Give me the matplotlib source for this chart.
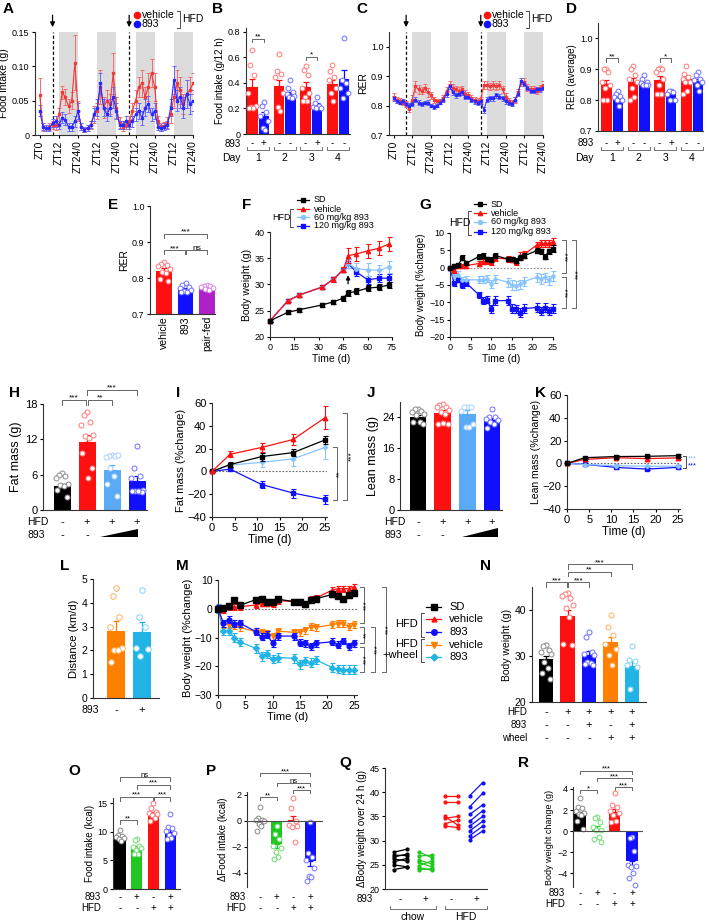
import matplotlib
matplotlib.use('Agg')
import matplotlib.pyplot as plt
from matplotlib.lines import Line2D
from matplotlib.patches import Polygon
import matplotlib.transforms as mtrans

plt.rcParams['font.family'] = ['Liberation Sans', 'DejaVu Sans']
plt.rcParams['font.size'] = 7
plt.rcParams['axes.linewidth'] = 0.8
plt.rcParams['axes.edgecolor'] = '#333333'
plt.rcParams['xtick.major.width'] = 0.8
plt.rcParams['ytick.major.width'] = 0.8
plt.rcParams['xtick.major.size'] = 2.5
plt.rcParams['ytick.major.size'] = 2.5
plt.rcParams['xtick.major.pad'] = 1.5
plt.rcParams['ytick.major.pad'] = 1.5
plt.rcParams['xtick.labelsize'] = 6.5
plt.rcParams['ytick.labelsize'] = 6.5

# ------------------------------------------------------------------ data
ZT_ticks = [0, 12, 24, 36, 48, 60, 72, 84, 96]
ZT_labels = ['ZT0', 'ZT12', 'ZT24/0', 'ZT12', 'ZT24/0', 'ZT12', 'ZT24/0', 'ZT12', 'ZT24/0']
A_time = [0, 2, 4, 6, 8, 10, 12, 14, 16, 18, 20, 22, 24, 26, 28, 30, 32, 34, 36, 38,
          40, 42, 44, 46, 48, 50, 52, 54, 56, 58, 60, 62, 64, 66, 68, 70, 72, 74, 76, 78,
          80, 82, 84, 86, 88, 90, 92, 94, 96]
A_veh = [0.058, 0.012, 0.010, 0.012, 0.015, 0.014, 0.030,
         0.062, 0.055, 0.042, 0.050, 0.105, 0.035, 0.012,
         0.008, 0.010, 0.015, 0.030, 0.035, 0.070, 0.040,
         0.050, 0.045, 0.090, 0.040, 0.018, 0.012, 0.015,
         0.020, 0.035, 0.050, 0.070, 0.075, 0.055, 0.070,
         0.090, 0.070, 0.020, 0.012, 0.013, 0.018, 0.030,
         0.055, 0.075, 0.065, 0.045, 0.060, 0.065, 0.075]
A_veh_err = [0.025, 0.006, 0.004, 0.005, 0.006, 0.006, 0.010,
             0.010, 0.012, 0.010, 0.012, 0.040, 0.015, 0.005,
             0.004, 0.004, 0.006, 0.012, 0.012, 0.025, 0.015,
             0.015, 0.015, 0.030, 0.015, 0.008, 0.006, 0.006,
             0.008, 0.012, 0.015, 0.015, 0.020, 0.015, 0.020,
             0.020, 0.020, 0.008, 0.006, 0.006, 0.008, 0.012,
             0.015, 0.020, 0.020, 0.015, 0.020, 0.020, 0.015]
A_893 = [0.035, 0.012, 0.010, 0.010, 0.018, 0.020, 0.015,
         0.025, 0.022, 0.012, 0.012, 0.020, 0.035, 0.012,
         0.008, 0.010, 0.015, 0.030, 0.040, 0.075, 0.040,
         0.030, 0.040, 0.055, 0.035, 0.015, 0.015, 0.020,
         0.015, 0.020, 0.030, 0.035, 0.025, 0.040, 0.045,
         0.030, 0.035, 0.012, 0.010, 0.012, 0.015, 0.040,
         0.080, 0.050, 0.055, 0.040, 0.060, 0.045, 0.050]
A_893_err = [0.008, 0.005, 0.004, 0.004, 0.006, 0.008, 0.006,
             0.008, 0.008, 0.006, 0.006, 0.008, 0.012, 0.005,
             0.004, 0.004, 0.005, 0.010, 0.012, 0.015, 0.012,
             0.010, 0.012, 0.015, 0.012, 0.006, 0.006, 0.008,
             0.006, 0.008, 0.010, 0.012, 0.010, 0.012, 0.012,
             0.010, 0.012, 0.005, 0.004, 0.005, 0.006, 0.012,
             0.020, 0.015, 0.015, 0.015, 0.020, 0.015, 0.015]

C_veh = [0.830, 0.820, 0.815, 0.810, 0.805, 0.790, 0.820,
         0.865, 0.855, 0.850, 0.860, 0.845, 0.835, 0.820,
         0.815, 0.815, 0.825, 0.850, 0.870, 0.860, 0.855,
         0.850, 0.855, 0.840, 0.835, 0.825, 0.820, 0.815,
         0.820, 0.870, 0.870, 0.865, 0.870, 0.865, 0.870,
         0.855, 0.830, 0.815, 0.810, 0.820, 0.845, 0.880,
         0.880, 0.860, 0.855, 0.855, 0.850, 0.860, 0.870]
C_veh_err = [0.012, 0.010, 0.010, 0.008, 0.010, 0.012, 0.015,
             0.018, 0.015, 0.012, 0.015, 0.015, 0.012, 0.010,
             0.008, 0.008, 0.010, 0.012, 0.012, 0.012, 0.012,
             0.012, 0.012, 0.012, 0.010, 0.010, 0.010, 0.010,
             0.010, 0.012, 0.012, 0.012, 0.012, 0.012, 0.012,
             0.012, 0.012, 0.010, 0.010, 0.010, 0.012, 0.012,
             0.012, 0.012, 0.010, 0.010, 0.010, 0.010, 0.012]
C_893 = [0.825, 0.815, 0.810, 0.815, 0.805, 0.800, 0.805,
         0.820, 0.810, 0.805, 0.810, 0.810, 0.800, 0.795,
         0.800, 0.810, 0.820, 0.840, 0.865, 0.845, 0.835,
         0.840, 0.845, 0.830, 0.830, 0.820, 0.815, 0.810,
         0.815, 0.785, 0.820, 0.825, 0.825, 0.835, 0.830,
         0.825, 0.815, 0.810, 0.805, 0.820, 0.840, 0.885,
         0.875, 0.860, 0.850, 0.850, 0.855, 0.855, 0.860]
C_893_err = [0.008, 0.006, 0.006, 0.006, 0.008, 0.010, 0.008,
             0.008, 0.008, 0.006, 0.006, 0.008, 0.006, 0.006,
             0.006, 0.006, 0.008, 0.010, 0.010, 0.008, 0.008,
             0.008, 0.008, 0.008, 0.008, 0.008, 0.008, 0.008,
             0.008, 0.010, 0.008, 0.008, 0.008, 0.008, 0.008,
             0.008, 0.008, 0.008, 0.008, 0.008, 0.008, 0.010,
             0.010, 0.008, 0.008, 0.008, 0.008, 0.008, 0.008]

days = ['1', '2', '3', '4']
B_veh = [0.370, 0.375, 0.365, 0.395]
B_veh_err = [0.060, 0.050, 0.040, 0.030]
B_893 = [0.140, 0.310, 0.230, 0.430]
B_893_err = [0.030, 0.020, 0.015, 0.070]
B_veh_pts = [[0.66, 0.54, 0.46, 0.32, 0.22, 0.21, 0.20, 0.20],
             [0.63, 0.49, 0.47, 0.45, 0.32, 0.21, 0.18],
             [0.53, 0.50, 0.46, 0.36, 0.32, 0.29, 0.26, 0.26],
             [0.54, 0.49, 0.45, 0.42, 0.36, 0.32, 0.26]]
B_893_pts = [[0.25, 0.22, 0.17, 0.14, 0.10, 0.05, 0.03],
             [0.42, 0.36, 0.33, 0.31, 0.30, 0.29, 0.28],
             [0.29, 0.24, 0.22, 0.21, 0.20, 0.20],
             [0.75, 0.42, 0.40, 0.36, 0.32, 0.28]]
B_893_marks = ['+', '-', '+', '-']

D_veh = [0.852, 0.858, 0.865, 0.868]
D_veh_err = [0.012, 0.013, 0.012, 0.009]
D_893 = [0.810, 0.852, 0.828, 0.862]
D_893_err = [0.008, 0.008, 0.006, 0.008]
D_veh_pts = [[0.90, 0.90, 0.89, 0.86, 0.85, 0.84, 0.80, 0.80],
             [0.91, 0.90, 0.88, 0.87, 0.86, 0.84, 0.81, 0.80],
             [0.905, 0.90, 0.90, 0.89, 0.87, 0.85, 0.82, 0.82],
             [0.91, 0.885, 0.875, 0.87, 0.86, 0.86, 0.83, 0.82]]
D_893_pts = [[0.83, 0.82, 0.815, 0.81, 0.80, 0.80, 0.78],
             [0.88, 0.87, 0.86, 0.855, 0.85, 0.85, 0.85],
             [0.83, 0.83, 0.825, 0.82, 0.80, 0.80],
             [0.89, 0.88, 0.87, 0.865, 0.86, 0.85, 0.83]]

E_groups = ['vehicle', '893', 'pair-fed']
E_mean = [0.820, 0.768, 0.773]
E_err = [0.008, 0.005, 0.003]
E_pts = [[0.845, 0.840, 0.836, 0.832, 0.825, 0.818, 0.813, 0.797, 0.793],
         [0.787, 0.781, 0.776, 0.772, 0.767, 0.765, 0.762, 0.760],
         [0.781, 0.779, 0.778, 0.776, 0.772, 0.770, 0.767]]

F_time = [0, 11, 18, 32, 39, 45, 48, 53, 60, 67, 73]
F_SD = [23.1, 24.7, 25.2, 26.1, 26.7, 27.4, 28.4, 28.7, 29.3, 29.5, 29.9]
F_SD_err = [0.3, 0.4, 0.4, 0.4, 0.4, 0.5, 0.5, 0.6, 0.6, 0.6, 0.6]
F_veh = [23.1, 26.9, 28.0, 29.5, 31.0, 32.8, 35.5, 35.8, 36.4, 36.9, 37.7]
F_veh_err = [0.3, 0.3, 0.4, 0.4, 0.5, 0.5, 1.5, 1.4, 1.4, 1.3, 1.3]
F_60 = [23.1, 26.9, 28.0, 29.5, 31.0, 32.8, 34.0, 33.0, 32.8, 32.7, 33.3]
F_60_err = [0.3, 0.3, 0.4, 0.4, 0.5, 0.5, 0.8, 1.0, 1.2, 1.1, 1.2]
F_120 = [23.1, 26.9, 28.0, 29.5, 31.0, 32.8, 34.0, 32.4, 30.9, 31.2, 31.2]
F_120_err = [0.3, 0.3, 0.4, 0.4, 0.5, 0.5, 0.8, 0.8, 0.8, 0.8, 0.8]

G_time = [0, 1, 2, 3, 4, 7, 8, 9, 10, 11, 14, 15, 16, 17, 18, 21, 22, 23, 24, 25]
G_SD = [0, 0.5, 0.8, 2.9, 1.3, 3.2, 3.4, 2.5, 2.3, 3.5, 2.5, 2.5, 2.0, 2.9, 3.4, 4.9, 4.7, 3.2, 4.7, 5.5]
G_SD_err = [0.3, 0.5, 0.6, 0.8, 0.6, 0.7, 0.7, 0.7, 0.7, 0.7, 0.7, 0.7, 0.7, 0.7, 0.7, 0.8, 0.8, 0.8, 0.8, 0.9]
G_veh = [0, -0.8, 0.5, 0.5, 0.6, 1.2, 1.7, 1.8, 1.5, 2.8, 2.5, 2.3, 1.5, 3.5, 3.8, 6.5, 7.0, 7.0, 7.0, 7.5]
G_veh_err = [0.3, 0.6, 0.6, 0.6, 0.6, 0.7, 0.7, 0.7, 0.7, 0.8, 0.8, 0.8, 0.8, 0.9, 0.9, 1.0, 1.0, 1.0, 1.0, 1.1]
G_60 = [0, -2.5, -2.0, -3.5, -3.5, -3.5, -3.5, -3.2, -4.8, -3.2, -4.2, -5.0, -5.2, -4.8, -4.0, -2.8, -3.2, -2.8, -3.7, -2.5]
G_60_err = [0.3, 0.8, 0.9, 0.9, 1.0, 1.0, 1.0, 1.0, 1.2, 1.2, 1.3, 1.3, 1.3, 1.3, 1.3, 1.4, 1.4, 1.4, 1.4, 1.4]
G_120 = [0, -4.5, -3.5, -5.0, -4.5, -7.8, -9.5, -9.2, -12.0, -9.5, -9.5, -11.8, -12.0, -13.0, -11.8, -11.5, -12.5, -11.5, -12.5, -11.8]
G_120_err = [0.3, 0.7, 0.7, 0.8, 0.8, 0.9, 1.0, 1.0, 1.2, 1.2, 1.2, 1.2, 1.2, 1.3, 1.3, 1.2, 1.2, 1.2, 1.2, 1.2]

H_mean = [4.1, 11.5, 6.8, 5.0]
H_err = [0.4, 1.2, 0.9, 0.8]
H_pts = [[6.2, 6.0, 5.7, 5.4, 4.5, 4.2, 4.0, 3.4, 2.2],
         [16.7, 16.1, 15.0, 14.4, 12.7, 12.5, 12.3, 9.6, 7.1, 5.4],
         [9.3, 9.2, 9.1, 9.0, 9.3, 7.1, 5.7, 4.5, 2.4],
         [10.8, 7.1, 5.7, 5.4, 3.4, 3.2, 3.2, 3.3, 3.1, 3.2]]
HFD_marks4 = ['-', '+', '+', '+']

IK_time = [0, 4, 11, 18, 25]
I_SD = [0, 6.0, 13.0, 16.5, 27.5]
I_SD_err = [0.5, 2.5, 3.5, 3.0, 3.5]
I_veh = [0, 15.0, 21.0, 28.0, 47.0]
I_veh_err = [0.5, 2.5, 4.0, 5.0, 10.0]
I_60 = [0, 5.5, 8.0, 11.0, 21.0]
I_60_err = [0.5, 2.0, 4.0, 6.0, 10.0]
I_120 = [0, 2.0, -11.5, -19.0, -24.5]
I_120_err = [0.5, 1.0, 3.0, 4.0, 4.0]

J_mean = [24.0, 25.2, 24.8, 23.4]
J_err = [0.6, 0.7, 1.0, 0.5]
J_pts = [[26.3, 26.1, 25.7, 25.5, 25.0, 24.6, 22.9, 22.7, 22.4],
         [27.4, 27.2, 26.8, 26.6, 25.9, 25.5, 25.0, 22.4, 22.2, 22.6],
         [26.8, 26.8, 26.7, 25.7, 22.4, 21.6, 21.6],
         [26.1, 24.2, 24.0, 23.5, 23.3, 22.9, 22.4, 21.3]]

K_SD = [0, 5.0, 6.0, 6.2, 6.8]
K_veh = [0, 3.5, 5.0, 4.2, 4.8]
K_60 = [0, -1.0, -2.0, -2.5, -2.5]
K_120 = [0, -0.8, -3.5, -5.0, -3.5]
K_err = [0.3, 1.0, 1.2, 1.2, 1.2]

L_mean = [2.82, 2.78]
L_err = [0.42, 0.42]
L_pts = [[4.62, 4.30, 3.40, 3.00, 2.10, 2.00, 2.00, 1.50],
         [4.55, 3.40, 3.00, 2.10, 2.07, 1.75]]

M_SD = [0, 0.3, 0.8, 3.0, 1.2, 3.2, 3.5, 2.5, 2.3, 3.3, 2.5, 2.5, 1.5, 3.0, 3.5, 5.0, 4.5, 3.3, 4.7, 5.5]
M_veh = [0, -0.5, 0.5, 0.5, 0.7, 1.3, 1.8, 1.8, 1.5, 2.8, 2.5, 2.5, 1.5, 3.5, 3.8, 6.5, 7.0, 7.0, 7.0, 7.5]
M_893 = [0, -5.0, -3.8, -5.2, -5.0, -8.0, -9.8, -9.0, -12.0, -9.5, -9.5, -11.8, -12.0, -13.0, -12.0, -11.5, -12.5, -11.2, -13.0, -12.0]
M_whl_veh = [0, -5.5, -5.5, -6.0, -6.5, -8.0, -8.2, -8.5, -9.5, -7.8, -8.2, -8.2, -7.5, -6.2, -6.5, -5.5, -5.2, -5.2, -6.2, -5.5]
M_whl_893 = [0, -7.8, -7.8, -10.0, -11.5, -13.8, -16.5, -15.8, -17.5, -17.0, -17.2, -19.3, -18.2, -18.8, -17.8, -20.5, -21.0, -21.2, -21.2, -21.2]
M_err_SD = 0.8
M_err_veh = 1.0
M_err_893 = 1.2
M_err_wv = 1.2
M_err_w893 = 1.5

N_mean = [29.3, 38.6, 30.3, 33.0, 27.8]
N_err = [0.8, 1.4, 0.8, 1.2, 1.1]
N_pts = [[32.5, 32.2, 31.3, 30.9, 30.5, 28.7, 27.3, 26.2, 24.9],
         [43.6, 43.4, 42.7, 43.0, 41.1, 40.4, 38.5, 32.7, 32.4],
         [35.3, 34.2, 30.9, 30.5, 30.2, 28.7, 28.4, 28.2, 28.0],
         [39.0, 36.4, 34.5, 32.7, 31.6, 30.2, 28.0],
         [32.2, 29.1, 28.9, 28.0, 27.6, 22.9]]
N_HFD = ['-', '+', '+', '+', '+']
N_893 = ['-', '-', '+', '-', '+']
N_wheel = ['-', '-', '-', '+', '+']

O_mean = [9.0, 7.2, 13.0, 10.0]
O_err = [0.3, 0.3, 0.4, 0.4]
O_pts = [[10.3, 9.5, 9.3, 9.1, 8.9, 8.8, 8.4],
         [8.8, 8.5, 7.5, 7.3, 7.1, 6.8, 6.2, 6.1],
         [15.0, 14.1, 13.4, 13.3, 13.1, 12.9, 12.4, 11.8],
         [13.1, 10.8, 10.6, 10.2, 9.7, 9.4, 8.9, 8.8]]
OPR_893 = ['-', '+', '-', '+']
OPR_HFD = ['-', '-', '+', '+']

P_mean = [-0.05, -1.75, 0.10, -3.10]
P_err = [0.20, 0.35, 0.30, 0.40]
P_pts = [[1.1, 0.2, 0.1, 0.05, 0.0, -0.2, -0.4, -0.8],
         [-0.4, -1.0, -1.4, -1.9, -2.1, -2.4, -2.8, -2.9],
         [1.8, 1.0, 0.0, -0.3, -0.4, -0.5, -1.6],
         [-0.05, -2.5, -2.8, -3.0, -3.6, -4.2, -4.3, -4.6]]

Q_chow_veh_L = [27.6, 27.0, 26.6, 26.2, 25.6, 25.0, 24.0]
Q_chow_veh_R = [28.2, 26.9, 27.2, 25.8, 26.3, 24.6, 24.5]
Q_chow_893_L = [27.7, 26.8, 26.0, 25.5, 24.8, 24.4, 24.0]
Q_chow_893_R = [26.5, 27.0, 25.2, 24.6, 25.8, 23.9, 24.2]
Q_hfd_veh_L = [39.2, 38.0, 35.0, 34.6, 33.5, 33.0]
Q_hfd_veh_R = [39.2, 38.0, 33.2, 35.0, 34.2, 32.7]
Q_hfd_893_L = [39.3, 37.0, 35.4, 34.0, 33.0, 32.0, 31.0, 30.2]
Q_hfd_893_R = [42.0, 39.8, 37.4, 36.2, 35.0, 34.0, 33.0, 32.0]

R_mean = [1.65, 0.15, 1.80, -2.90]
R_err = [0.20, 0.30, 0.30, 0.50]
R_pts = [[3.1, 2.3, 2.2, 1.9, 1.7, 1.6, 1.5, 1.0, 0.2],
         [1.3, 1.2, 0.9, 0.4, 0.1, 0.1, -0.6, -0.8, -1.0],
         [3.6, 2.5, 2.3, 1.9, 1.7, 1.5, 1.0, 0.9],
         [-0.6, -0.7, -1.9, -3.2, -3.3, -3.4, -4.0, -4.5, -5.1]]

# ------------------------------------------------------------------ colours
RED = '#ff1010'
LRED = '#ff7878'
BLUE = '#1010ff'
LBLUE = '#7070ff'
SKY = '#5aaaf5'
LSKY = '#a8d2ff'
SKYLINE = '#88c4ff'
ORANGE = '#ff8000'
LORANGE = '#ffb060'
CYAN = '#22b4e6'
LCYAN = '#80d4f2'
GREEN = '#1ec81e'
LGREEN = '#70dd70'
PURPLE = '#b020c8'
LPURPLE = '#d880e8'
GREY_PT = '#8a8a8a'
SHADE = '#dcdcdc'

# ------------------------------------------------------------------ helpers
W, H = 709, 922
fig = plt.figure(figsize=(W / 100, H / 100), dpi=100)


def axpx(l, t, r, b):
    ax = fig.add_axes([l / W, 1 - b / H, (r - l) / W, (b - t) / H])
    ax.spines['top'].set_visible(False)
    ax.spines['right'].set_visible(False)
    return ax


def ftext(x, y, s, **kw):
    fig.text(x / W, 1 - y / H, s, **kw)


def letter(x, y, s):
    ftext(x, y, s, fontsize=11, fontweight='bold', ha='left', va='top')


def fline(xs, ys, **kw):
    kw.setdefault('color', '0.3')
    kw.setdefault('lw', 0.7)
    fig.add_artist(Line2D([x / W for x in xs], [1 - y / H for y in ys], **kw))


def fmark(x, y, **kw):
    fig.add_artist(Line2D([x / W], [1 - y / H], linestyle='none', **kw))


def px_xlim(ax, L, R, c0, sp):
    xmin = -(c0 - L) / sp
    ax.set_xlim(xmin, xmin + (R - L) / sp)


def jitter(n, half):
    pattern = [0, -0.55, 0.55, -1.0, 1.0, -0.3, 0.3, -0.8, 0.8, 0.1]
    return [pattern[i % len(pattern)] * half for i in range(n)]


def bars(ax, xs, means, errs, colors, pts, pcolors, width, s=12):
    for x, m, e, c, p, pc in zip(xs, means, errs, colors, pts, pcolors):
        ax.bar(x, m, width=width, color=c, zorder=2, lw=0)
        yerr = [[0], [e]] if m >= 0 else [[e], [0]]
        ax.errorbar([x], [m], yerr=yerr, fmt='none', ecolor=c, elinewidth=0.9,
                    capsize=2.2, capthick=0.9, zorder=3)
        offs = jitter(len(p), width * 0.36)
        ax.scatter([x + o for o in offs], p, s=s, facecolor='white', edgecolor=pc,
                   linewidth=0.7, zorder=4, clip_on=False)


def rows(ax, xs, marks, ypx, fs=7):
    tr = mtrans.blended_transform_factory(ax.transData, fig.transFigure)
    for x, m in zip(xs, marks):
        ax.text(x, 1 - ypx / H, m, transform=tr, ha='center', va='center',
                fontsize=fs, clip_on=False)


def under_bracket(ax, x1, x2, ypx, h=3):
    tr = mtrans.blended_transform_factory(ax.transData, fig.transFigure)
    ax.plot([x1, x1, x2, x2], [1 - (ypx - h) / H, 1 - ypx / H, 1 - ypx / H, 1 - (ypx - h) / H],
            transform=tr, color='0.45', lw=0.7, clip_on=False)


def wedge(x0, x1, ybot, ytop):
    fig.add_artist(Polygon([[x0 / W, 1 - ybot / H], [x1 / W, 1 - ybot / H], [x1 / W, 1 - ytop / H]],
                           closed=True, transform=fig.transFigure, color='black', lw=0))


def sig(ax, x1, x2, y, txt, tick, fs=6):
    ax.plot([x1, x1, x2, x2], [y - tick, y, y, y - tick], color='0.4', lw=0.7, clip_on=False)
    ax.text((x1 + x2) / 2, y, txt, ha='center', va='baseline', fontsize=fs, clip_on=False)


def vbr(x, y1, y2, txt, tick=3, tx=3, fs=6, color='0.4', tcolor='black'):
    fline([x - tick, x, x, x - tick], [y1, y1, y2, y2], color=color)
    ftext(x + tx, (y1 + y2) / 2, txt, rotation=90, ha='center', va='center',
          fontsize=fs, color=tcolor)


def ts(ax, t, v, e, color, marker, ms=3, z=3, ecolor=None):
    ax.errorbar(t, v, yerr=e, color=color, ecolor=ecolor or color, marker=marker, ms=ms,
                lw=0.9, elinewidth=0.8, capsize=1.8, capthick=0.8, zorder=z, clip_on=False)


def leg(x0, x1, y, marker, color, label, ms=3, fs=6.5, tx=None):
    fline([x0, x1], [y, y], color=color, lw=0.9)
    fmark((x0 + x1) / 2, y, marker=marker, color=color, ms=ms)
    ftext(tx if tx is not None else x1 + 4, y, label, fontsize=fs, va='center', ha='left')


def hfd_bracket(x, y1, y2, tick=3):
    fline([x + tick, x, x, x + tick], [y1, y1, y2, y2], color='0.3')


# ------------------------------------------------------------------ A & C
def circadian(ax, veh, veh_e, d893, d893_e, ylim, yticks, yticklabels, ylabel):
    for s0, s1 in [(12, 24), (36, 48), (60, 72), (84, 96)]:
        ax.axvspan(s0, s1, color=SHADE, lw=0, zorder=0)
    for xv in [8, 56]:
        ax.axvline(xv, color='black', ls=(0, (2.5, 1.8)), lw=0.9, zorder=1)
    ax.errorbar(A_time, veh, yerr=veh_e, color='#f03a3a', ecolor='#f07070', marker='s', ms=2,
                lw=0.8, elinewidth=0.7, capsize=1.5, capthick=0.7, zorder=3)
    ax.errorbar(A_time, d893, yerr=d893_e, color='#2a2aff', ecolor='#6a6aff', marker='s', ms=2,
                lw=0.8, elinewidth=0.7, capsize=1.5, capthick=0.7, zorder=3)
    ax.set_xlim(-3, 96)
    ax.set_ylim(*ylim)
    ax.set_yticks(yticks)
    ax.set_yticklabels(yticklabels)
    ax.set_xticks(ZT_ticks)
    ax.set_xticklabels(ZT_labels, rotation=90, fontsize=7.5)
    ax.set_ylabel(ylabel, fontsize=7.5, labelpad=2)
    for xv in [8, 56]:
        ax.annotate('', xy=(xv, 1.02), xycoords=('data', 'axes fraction'),
                    xytext=(xv, 1.19), textcoords=('data', 'axes fraction'),
                    arrowprops=dict(arrowstyle='-|>', color='black', lw=0.9, mutation_scale=7))


axA = axpx(35, 32, 193, 135)
circadian(axA, A_veh, A_veh_err, A_893, A_893_err, (0, 0.15), [0, 0.05, 0.10, 0.15],
          ['0', '0.05', '0.10', '0.15'], 'Food intake (g)')
letter(3, 2, 'A')
fmark(137, 15, marker='o', ms=4.5, color=RED)
ftext(142, 15, 'vehicle', fontsize=7.5, va='center')
fmark(137, 24, marker='o', ms=4.5, color=BLUE)
ftext(142, 24, '893', fontsize=7.5, va='center')
fline([177, 180, 180, 177], [11, 11, 28, 28])
ftext(182, 19.5, 'HFD', fontsize=7.5, va='center')

axC = axpx(389, 32, 543, 135)
circadian(axC, C_veh, C_veh_err, C_893, C_893_err, (0.7, 1.05), [0.7, 0.8, 0.9, 1.0],
          ['0.7', '0.8', '0.9', '1.0'], 'RER')
letter(356, 2, 'C')
fmark(487, 15, marker='o', ms=4.5, color=RED)
ftext(492, 15, 'vehicle', fontsize=7.5, va='center')
fmark(487, 24, marker='o', ms=4.5, color=BLUE)
ftext(492, 24, '893', fontsize=7.5, va='center')
fline([526, 529, 529, 526], [11, 11, 28, 28])
ftext(531, 19.5, 'HFD', fontsize=7.5, va='center')


# ------------------------------------------------------------------ B & D
def daybars(ax, veh, veh_e, d893, d893_e, vpts, bpts, L, R, c0):
    sp = 11.5
    dd = 2.32
    xr = [i * dd for i in range(4)]
    xb = [i * dd + 1 for i in range(4)]
    px_xlim(ax, L, R, c0, sp)
    xs, means, errs, cols, pts, pcs = [], [], [], [], [], []
    for i in range(4):
        xs += [xr[i], xb[i]]
        means += [veh[i], d893[i]]
        errs += [veh_e[i], d893_e[i]]
        cols += [RED, BLUE]
        pts += [vpts[i], bpts[i]]
        pcs += [LRED, LBLUE]
    bars(ax, xs, means, errs, cols, pts, pcs, 0.92)
    ax.set_xticks([])
    marks = []
    for i in range(4):
        marks += ['-', B_893_marks[i] if i in (0, 2) else '-']
    rows(ax, xs, marks, 143)
    for i in range(4):
        under_bracket(ax, xr[i] - 0.45, xb[i] + 0.45, 150)
    rows(ax, [(xr[i] + xb[i]) / 2 for i in range(4)], days, 158, fs=7.5)
    return xr, xb


axB = axpx(246, 28, 350, 134)
xr, xb = daybars(axB, B_veh, B_veh_err, B_893, B_893_err, B_veh_pts, B_893_pts, 246, 350, 252.3)
axB.set_ylim(0, 0.83)
axB.set_yticks([0, 0.2, 0.4, 0.6, 0.8])
axB.set_yticklabels(['0', '0.2', '0.4', '0.6', '0.8'])
axB.set_ylabel('Food intake (g/12 h)', fontsize=7, labelpad=2)
sig(axB, xr[0], xb[0], 0.745, '**', 0.025)
sig(axB, xr[2], xb[2], 0.605, '*', 0.025)
ftext(241, 144, '893', fontsize=7, ha='right', va='center')
ftext(241, 158, 'Day', fontsize=7.5, ha='right', va='center')
letter(212, 2, 'B')

axD = axpx(598, 23, 703, 131)
xr, xb = daybars(axD, D_veh, D_veh_err, D_893, D_893_err, D_veh_pts, D_893_pts, 598, 703, 606.3)
axD.set_ylim(0.7, 1.05)
axD.set_yticks([0.7, 0.8, 0.9, 1.0])
axD.set_yticklabels(['0.7', '0.8', '0.9', '1.0'])
axD.set_ylabel('RER (average)', fontsize=7, labelpad=2)
sig(axD, xr[0], xb[0], 0.935, '**', 0.012)
sig(axD, xr[2], xb[2], 0.935, '*', 0.012)
ftext(594, 143, '893', fontsize=7, ha='right', va='center')
ftext(594, 158, 'Day', fontsize=7.5, ha='right', va='center')
letter(566, 2, 'D')

# ------------------------------------------------------------------ E
axE = axpx(150, 206, 215, 314)
px_xlim(axE, 150, 215, 164, 21.5)
bars(axE, [0, 1, 2], E_mean, E_err, [RED, BLUE, PURPLE], E_pts, [LRED, LBLUE, LPURPLE], 0.72)
axE.set_ylim(0.7, 1.0)
axE.set_yticks([0.7, 0.8, 0.9, 1.0])
axE.set_yticklabels(['0.7', '0.8', '0.9', '1.0'])
axE.set_xticks([0, 1, 2])
axE.set_xticklabels(E_groups, rotation=90, fontsize=7.5)
axE.tick_params(axis='x', length=0)
axE.set_ylabel('RER', fontsize=7.5, labelpad=2)
sig(axE, 0, 0.97, 0.878, '***', 0.012)
sig(axE, 1.03, 2, 0.878, 'ns', 0.012)
sig(axE, 0, 2, 0.923, '***', 0.012)
letter(108, 198, 'E')

# ------------------------------------------------------------------ F
axF = axpx(270, 232, 392, 337)
ts(axF, F_time, F_120, F_120_err, BLUE, 's', ms=2.5, z=2)
ts(axF, F_time, F_60, F_60_err, SKYLINE, 'o', ms=2.5, z=2)
ts(axF, F_time, F_veh, F_veh_err, RED, '^', ms=3, z=3)
ts(axF, F_time, F_SD, F_SD_err, 'black', 's', ms=2.8, z=4)
axF.set_xlim(0, 75)
axF.set_ylim(20, 40)
axF.set_xticks([0, 15, 30, 45, 60, 75])
axF.set_yticks([20, 25, 30, 35, 40])
axF.set_xlabel('Time (d)', fontsize=7.5, labelpad=2)
axF.set_ylabel('Body weight (g)', fontsize=7.5, labelpad=2)
axF.annotate('', xy=(48, 32.3), xytext=(48, 29.6),
             arrowprops=dict(arrowstyle='-|>', color='black', lw=0.9, mutation_scale=6))
letter(242, 198, 'F')
leg(297, 309, 200, 's', 'black', 'SD', tx=314)
leg(297, 309, 209, '^', RED, 'vehicle', tx=314)
leg(297, 309, 217, 'o', SKYLINE, '60 mg/kg 893', tx=314)
leg(297, 309, 226, 's', BLUE, '120 mg/kg 893', tx=314)
ftext(272, 218, 'HFD', fontsize=6.5, va='center')
hfd_bracket(290, 209, 227)

# ------------------------------------------------------------------ G
axG = axpx(450, 233, 553, 337)
axG.axhline(0, color='0.55', ls=(0, (1.5, 1.5)), lw=0.8, zorder=1)
ts(axG, G_time, G_120, G_120_err, BLUE, 's', ms=2.5, z=2)
ts(axG, G_time, G_60, G_60_err, SKYLINE, 'o', ms=2.2, z=2)
ts(axG, G_time, G_veh, G_veh_err, RED, '^', ms=3, z=3)
ts(axG, G_time, G_SD, G_SD_err, 'black', 's', ms=2.8, z=4)
axG.set_xlim(0, 25)
axG.set_ylim(-20, 10)
axG.set_xticks([0, 5, 10, 15, 20, 25])
axG.set_yticks([-20, -15, -10, -5, 0, 5, 10])
axG.set_xlabel('Time (d)', fontsize=7.5, labelpad=2)
axG.set_ylabel('Body weight (%change)', fontsize=7, labelpad=2)
letter(419, 198, 'G')
leg(474, 486, 204, 's', 'black', 'SD', tx=491)
leg(474, 486, 213, '^', RED, 'vehicle', tx=491)
leg(474, 486, 222, 'o', SKYLINE, '60 mg/kg 893', tx=491)
leg(474, 486, 232, 's', BLUE, '120 mg/kg 893', tx=491)
ftext(449, 223, 'HFD', fontsize=7.5, va='center')
hfd_bracket(468, 211, 235)
vbr(566, 240, 273, '***', tick=4)
vbr(566, 277, 308, '***', tick=4)
vbr(576, 240, 308, '***', tick=4)

# ------------------------------------------------------------------ H
axH = axpx(43, 404, 147, 510)
px_xlim(axH, 43, 147, 62, 25)
bars(axH, [0, 1, 2, 3], H_mean, H_err, ['black', RED, SKY, BLUE], H_pts,
     [GREY_PT, LRED, LSKY, LBLUE], 0.68, s=13)
axH.set_ylim(0, 18)
axH.set_yticks([0, 6, 12, 18])
axH.set_xticks([])
axH.tick_params(axis='y', labelsize=8)
axH.set_ylabel('Fat mass (g)', fontsize=9, labelpad=2)
sig(axH, 0, 0.97, 18.7, '***', 0.8)
sig(axH, 1.03, 2, 18.7, '**', 0.8)
sig(axH, 1, 3, 20.4, '***', 0.8)
rows(axH, [0, 1, 2, 3], HFD_marks4, 522, fs=8)
rows(axH, [0, 1], ['-', '-'], 535, fs=8)
ftext(27, 522, 'HFD', fontsize=7.5, va='center')
ftext(27, 535, '893', fontsize=7.5, va='center')
wedge(100, 138, 537, 529)
letter(9, 386, 'H')

# ------------------------------------------------------------------ I
axI = axpx(212, 403, 327, 517)
axI.axhline(0, color='0.4', ls=(0, (1.5, 1.5)), lw=0.8, zorder=1)
ts(axI, IK_time, I_120, I_120_err, BLUE, 's', ms=2.5, z=2)
ts(axI, IK_time, I_60, I_60_err, SKYLINE, 'D', ms=2.2, z=2)
ts(axI, IK_time, I_SD, I_SD_err, 'black', 's', ms=3, z=3)
ts(axI, IK_time, I_veh, I_veh_err, RED, '^', ms=3.2, z=4)
axI.set_xlim(0, 25.5)
axI.set_ylim(-40, 60)
axI.set_xticks([0, 5, 10, 15, 20, 25])
axI.set_yticks([-40, -20, 0, 20, 40, 60])
axI.tick_params(labelsize=8)
axI.set_xlabel('Time (d)', fontsize=8.5, labelpad=1)
axI.set_ylabel('Fat mass (%change)', fontsize=8, labelpad=1)
vbr(347, 413, 500, '***', tick=4, tx=5)
vbr(337, 447, 500, '**', tick=4, tx=3)
letter(176, 386, 'I')

# ------------------------------------------------------------------ J
axJ = axpx(400, 402, 502, 510)
px_xlim(axJ, 400, 502, 418, 24.7)
bars(axJ, [0, 1, 2, 3], J_mean, J_err, ['black', RED, SKY, BLUE], J_pts,
     [GREY_PT, LRED, LSKY, LBLUE], 0.68, s=13)
axJ.set_ylim(0, 28)
axJ.set_yticks([0, 8, 16, 24])
axJ.set_xticks([])
axJ.tick_params(axis='y', labelsize=8)
axJ.set_ylabel('Lean mass (g)', fontsize=9, labelpad=2)
rows(axJ, [0, 1, 2, 3], HFD_marks4, 522, fs=8)
rows(axJ, [0, 1], ['-', '-'], 535, fs=8)
ftext(384, 522, 'HFD', fontsize=7.5, va='center')
ftext(384, 535, '893', fontsize=7.5, va='center')
wedge(462, 498, 537, 528)
letter(367, 386, 'J')

# ------------------------------------------------------------------ K
axK = axpx(567, 395, 680, 509)
axK.axhline(0, color='0.4', ls=(0, (1.5, 1.5)), lw=0.8, zorder=1)
ts(axK, IK_time, K_120, K_err, BLUE, 's', ms=2.5, z=2)
ts(axK, IK_time, K_60, K_err, SKYLINE, 'D', ms=2.2, z=2)
ts(axK, IK_time, K_veh, K_err, RED, '^', ms=3.2, z=3)
ts(axK, IK_time, K_SD, K_err, 'black', 's', ms=3, z=4)
axK.set_xlim(0, 25.5)
axK.set_ylim(-40, 60)
axK.set_xticks([0, 5, 10, 15, 20, 25])
axK.set_yticks([-40, -20, 0, 20, 40, 60])
axK.tick_params(labelsize=8)
axK.set_xlabel('Time (d)', fontsize=8.5, labelpad=1)
axK.set_ylabel('Lean mass (%change)', fontsize=7.5, labelpad=1)
fline([683, 686, 686, 683], [456, 456, 468, 468])
ftext(688, 459, '***', fontsize=5.5, color=SKYLINE, va='center')
ftext(688, 466, '***', fontsize=5.5, color=BLUE, va='center')
letter(535, 386, 'K')

# ------------------------------------------------------------------ L
axL = axpx(93, 579, 159, 698)
px_xlim(axL, 93, 159, 116, 26)
bars(axL, [0, 1], L_mean, L_err, [ORANGE, CYAN], L_pts, [LORANGE, LCYAN], 0.66, s=16)
axL.set_ylim(0, 5)
axL.set_yticks([0, 1, 2, 3, 4, 5])
axL.set_xticks([])
axL.tick_params(axis='y', labelsize=7.5)
axL.set_ylabel('Distance (km/d)', fontsize=8, labelpad=2)
rows(axL, [0, 1], ['-', '+'], 710, fs=8)
ftext(81, 710, '893', fontsize=7.5, va='center')
letter(60, 559, 'L')

# ------------------------------------------------------------------ M
axM = axpx(218, 580, 357, 695)
axM.axhline(0, color='0.4', ls=(0, (1.5, 1.5)), lw=0.8, zorder=1)
ts(axM, G_time, M_whl_893, [M_err_w893] * len(G_time), CYAN, 'D', ms=3, z=2)
ts(axM, G_time, M_whl_veh, [M_err_wv] * len(G_time), ORANGE, 'v', ms=3.5, z=2)
ts(axM, G_time, M_893, [M_err_893] * len(G_time), BLUE, 'o', ms=3.5, z=3)
ts(axM, G_time, M_veh, [M_err_veh] * len(G_time), RED, '^', ms=3, z=4)
ts(axM, G_time, M_SD, [M_err_SD] * len(G_time), 'black', 's', ms=3.8, z=5)
axM.set_xlim(0, 25.5)
axM.set_ylim(-30, 10)
axM.set_xticks([0, 5, 10, 15, 20, 25])
axM.set_yticks([-30, -20, -10, 0, 10])
axM.tick_params(labelsize=7.5)
axM.set_xlabel('Time (d)', fontsize=8, labelpad=1)
axM.set_ylabel('Body weight (%change)', fontsize=8, labelpad=1)
vbr(364, 587, 623, '***', tick=4)
vbr(364, 627, 643, '**', tick=4)
vbr(364, 647, 672, '***', tick=4)
vbr(375, 627, 672, '***', tick=4)
vbr(386, 587, 672, '***', tick=4)
letter(176, 559, 'M')
leg(426, 441, 607, 's', 'black', 'SD', ms=4, fs=8, tx=449)
leg(426, 441, 619, '^', RED, 'vehicle', ms=3.5, fs=8, tx=449)
leg(426, 441, 632, 'o', BLUE, '893', ms=4, fs=8, tx=449)
leg(426, 441, 645, 'v', ORANGE, 'vehicle', ms=4, fs=8, tx=449)
leg(426, 441, 657, 'D', CYAN, '893', ms=3.5, fs=8, tx=449)
ftext(418, 624, 'HFD', fontsize=8, ha='right', va='center')
ftext(418, 644, 'HFD', fontsize=8, ha='right', va='center')
ftext(418, 655, '+wheel', fontsize=8, ha='right', va='center')
hfd_bracket(421, 613, 637)
hfd_bracket(421, 639, 662)

# ------------------------------------------------------------------ N
axN = axpx(532, 587, 646, 702)
px_xlim(axN, 532, 646, 546, 21.5)
bars(axN, [0, 1, 2, 3, 4], N_mean, N_err, ['black', RED, BLUE, ORANGE, CYAN], N_pts,
     [GREY_PT, LRED, LBLUE, LORANGE, LCYAN], 0.66, s=13)
axN.set_ylim(20, 45)
axN.set_yticks([20, 30, 40])
axN.set_xticks([])
axN.tick_params(axis='y', labelsize=7.5)
axN.set_ylabel('Body weight (g)', fontsize=7.5, labelpad=2)
sig(axN, 0, 0.97, 46.1, '***', 1.0)
sig(axN, 1.03, 2, 46.1, '***', 1.0)
sig(axN, 1, 3, 48.3, '**', 1.0)
sig(axN, 1, 4, 49.9, '***', 1.0)
rows(axN, [0, 1, 2, 3, 4], N_HFD, 712, fs=8)
rows(axN, [0, 1, 2, 3, 4], N_893, 725, fs=8)
rows(axN, [0, 1, 2, 3, 4], N_wheel, 738, fs=8)
ftext(527, 712, 'HFD', fontsize=7, ha='right', va='center')
ftext(527, 725, '893', fontsize=7, ha='right', va='center')
ftext(527, 738, 'wheel', fontsize=7, ha='right', va='center')
letter(480, 559, 'N')

# ------------------------------------------------------------------ O
axO = axpx(113, 798, 180, 889)
px_xlim(axO, 113, 180, 120, 16.7)
bars(axO, [0, 1, 2, 3], O_mean, O_err, ['black', GREEN, RED, BLUE], O_pts,
     [GREY_PT, LGREEN, LRED, LBLUE], 0.66)
axO.set_ylim(0, 15.9)
axO.set_yticks([0, 5, 10, 15])
axO.set_xticks([])
axO.set_ylabel('Food intake (kcal)', fontsize=7, labelpad=2)
sig(axO, 0, 1, 12.0, '**', 0.7, fs=5.5)
sig(axO, 0, 1.97, 16.1, '***', 0.7, fs=5.5)
sig(axO, 2.03, 3, 16.1, '***', 0.7, fs=5.5)
sig(axO, 1, 3, 18.2, '***', 0.7, fs=5.5)
sig(axO, 0, 3, 19.6, 'ns', 0.7, fs=5.5)
rows(axO, [0, 1, 2, 3], OPR_893, 897)
rows(axO, [0, 1, 2, 3], OPR_HFD, 908)
ftext(101, 897, '893', fontsize=7, ha='right', va='center')
ftext(101, 908, 'HFD', fontsize=7, ha='right', va='center')
letter(68, 764, 'O')

# ------------------------------------------------------------------ P
axP = axpx(247, 792, 323, 887)
px_xlim(axP, 247, 323, 260, 16.7)
axP.axhline(0, color='0.3', lw=0.8, zorder=5)
bars(axP, [0, 1, 2, 3], P_mean, P_err, ['black', GREEN, RED, BLUE], P_pts,
     [GREY_PT, LGREEN, LRED, LBLUE], 0.66)
axP.set_ylim(-5.08, 2.23)
axP.set_yticks([-4, -2, 0, 2])
axP.set_xticks([])
axP.spines['bottom'].set_visible(False)
axP.set_ylabel('ΔFood intake (kcal)', fontsize=7, labelpad=2)
sig(axP, 0, 1, 1.85, '**', 0.22, fs=5.5)
sig(axP, 2, 3, 2.38, '***', 0.22, fs=5.5)
sig(axP, 1, 3, 2.92, 'ns', 0.22, fs=5.5)
sig(axP, 0, 3, 3.69, '***', 0.22, fs=5.5)
rows(axP, [0, 1, 2, 3], OPR_893, 897)
rows(axP, [0, 1, 2, 3], OPR_HFD, 908)
ftext(246, 897, '893', fontsize=7, ha='right', va='center')
ftext(246, 908, 'HFD', fontsize=7, ha='right', va='center')
letter(206, 764, 'P')

# ------------------------------------------------------------------ Q
axQ = axpx(385, 768, 487, 889)
qx = [0, 1, 2.05, 3.05]
px_xlim(axQ, 385, 487, 400, 25)
for cx, Lv, Rv, col in [(qx[0], Q_chow_veh_L, Q_chow_veh_R, 'black'),
                        (qx[1], Q_chow_893_L, Q_chow_893_R, GREEN),
                        (qx[2], Q_hfd_veh_L, Q_hfd_veh_R, RED),
                        (qx[3], Q_hfd_893_L, Q_hfd_893_R, BLUE)]:
    for a, b in zip(Lv, Rv):
        axQ.plot([cx - 0.26, cx + 0.26], [a, b], color=col, lw=0.9, marker='o', ms=2, zorder=3)
axQ.set_ylim(20, 45)
axQ.set_yticks([20, 25, 30, 35, 40, 45])
axQ.set_xticks([])
axQ.set_ylabel('ΔBody weight over 24 h (g)', fontsize=7, labelpad=2)
rows(axQ, qx, ['-', '+', '-', '+'], 899)
ftext(357, 899, '893', fontsize=7, va='center')
under_bracket(axQ, -0.4, 1.42, 909)
under_bracket(axQ, 1.8, 3.48, 909)
rows(axQ, [0.5, 2.64], ['chow', 'HFD'], 917, fs=7.5)
letter(339, 756, 'Q')

# ------------------------------------------------------------------ R
axR = axpx(573, 787, 643, 887)
px_xlim(axR, 573, 643, 580, 17.3)
axR.axhline(0, color='0.3', lw=0.8, zorder=5)
bars(axR, [0, 1, 2, 3], R_mean, R_err, ['black', GREEN, RED, BLUE], R_pts,
     [GREY_PT, LGREEN, LRED, LBLUE], 0.66)
axR.set_ylim(-5.33, 4.19)
axR.set_yticks([-4, -2, 0, 2, 4])
axR.set_xticks([])
axR.spines['bottom'].set_visible(False)
axR.set_ylabel('Body weight change (g)', fontsize=6.5, labelpad=2)
sig(axR, 0, 1, 3.9, '*', 0.3, fs=5.5)
sig(axR, 2, 3, 4.19, '***', 0.3, fs=5.5)
sig(axR, 1, 3, 5.05, '***', 0.3, fs=5.5)
sig(axR, 0, 3, 5.75, '***', 0.3, fs=5.5)
rows(axR, [0, 1, 2, 3], OPR_893, 893)
rows(axR, [0, 1, 2, 3], OPR_HFD, 904)
ftext(565, 893, '893', fontsize=7, ha='right', va='center')
ftext(565, 904, 'HFD', fontsize=7, ha='right', va='center')
letter(518, 756, 'R')

fig.savefig('out.png', dpi=100)
